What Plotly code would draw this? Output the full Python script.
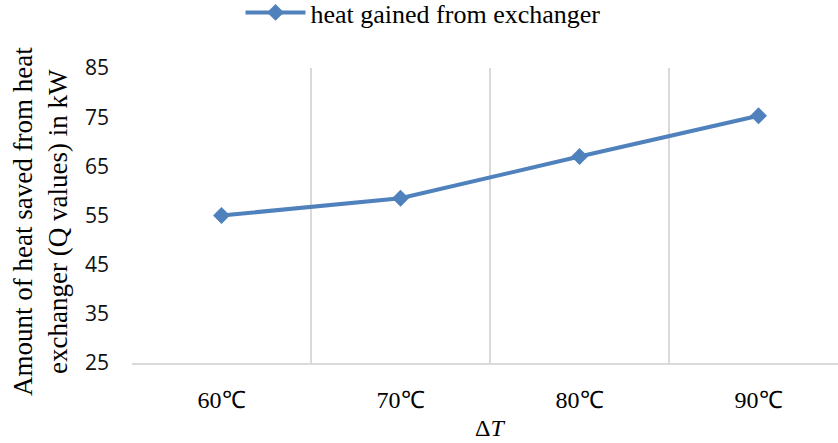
import plotly.graph_objects as go

categories = ["60℃", "70℃", "80℃", "90℃"]
heat_gained = [55.0, 58.5, 67.0, 75.3]
y_ticks = [25, 35, 45, 55, 65, 75, 85]

W, H = 838, 443
L, R, T, B = 132, 0, 68, 80
pw, ph = W - L - R, H - T - B

def px_x(x):
    return (x - L) / pw

def px_y(y):
    return (H - B - y) / ph

serif = "Liberation Serif, Times New Roman, serif"
sans = "Open Sans, Lato, sans-serif"

fig = go.Figure()
fig.add_trace(go.Scatter(
    x=categories, y=heat_gained, mode="lines+markers",
    name="heat gained from exchanger",
    line=dict(color="#4f81bd", width=4),
    marker=dict(symbol="diamond", size=13, color="#4f81bd"),
))

fig.update_layout(
    width=W, height=H,
    margin=dict(l=L, r=R, t=T, b=B, pad=0, autoexpand=False),
    paper_bgcolor="white", plot_bgcolor="white",
    showlegend=True,
    legend=dict(
        orientation="h", x=px_x(423), xanchor="center",
        y=px_y(-11), yanchor="top",
        font=dict(family=serif, size=26, color="#000000"),
        bgcolor="rgba(0,0,0,0)", itemwidth=60,
    ),
    xaxis=dict(
        type="category", range=[-0.5, 3.444],
        tickson="boundaries", ticks="", showgrid=True,
        gridcolor="#d9d9d9", gridwidth=1.5,
        showline=True, linecolor="#d9d9d9", linewidth=2,
        tickfont=dict(family=serif, size=24, color="#000000"),
        ticklabelstandoff=14, zeroline=False,
    ),
    yaxis=dict(
        range=[25, 85], tickvals=y_ticks, showgrid=False,
        zeroline=False, showline=False, ticks="",
        tickfont=dict(family=sans, size=21, color="#111111"),
        ticklabelstandoff=22,
    ),
    annotations=[
        dict(text="Amount of heat saved from heat<br>exchanger (Q values) in kW",
             xref="paper", yref="paper", x=px_x(40), y=px_y(222),
             xanchor="center", yanchor="middle", textangle=-90, showarrow=False,
             font=dict(family=serif, size=27, color="#000000")),
        dict(text="Δ<i>T</i>", xref="paper", yref="paper",
             x=px_x(489.5), y=px_y(428), xanchor="center", yanchor="middle",
             showarrow=False, font=dict(family=serif, size=24, color="#000000")),
    ],
)

fig.write_html("out.html")
